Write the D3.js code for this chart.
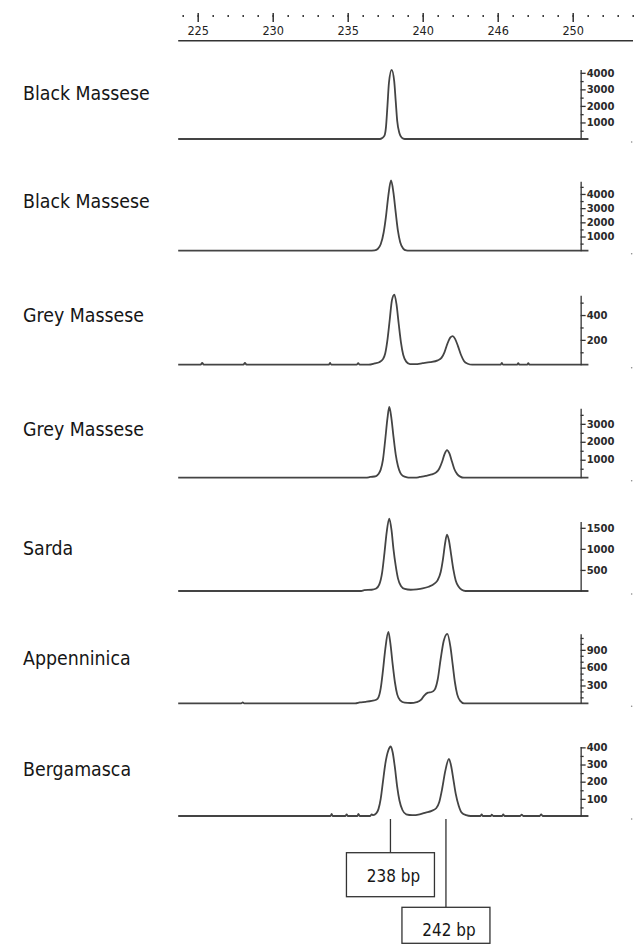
<!DOCTYPE html>
<html>
<head>
<meta charset="utf-8" />
<title>Electropherograms by breed</title>
<style>
  body { margin: 0; background: #fff; }
  svg { display: block; }
  .trace { fill: none; stroke: #444; stroke-width: 1.8px; stroke-linejoin: round; }
  .breed { font: 20px "DejaVu Sans", sans-serif; fill: #161616; }
  .yaxis text { font: bold 10px "DejaVu Sans", sans-serif; fill: #2a2a2a; }
  .yaxis path, .yaxis line { stroke: #333; stroke-width: 1.3px; }
  .xaxis text { font: 13px "DejaVu Sans", sans-serif; fill: #222; }
  .xaxis line { stroke: #333; stroke-width: 1.5px; }
  .marker { stroke: #333; stroke-width: 1.3px; fill: none; }
  .box { fill: #fff; stroke: #333; stroke-width: 1.3px; }
  .boxlabel { font: 17.5px "DejaVu Sans", sans-serif; fill: #161616; }
</style>
</head>
<body>
<svg width="638" height="948"></svg>
<script src="https://d3js.org/d3.v7.min.js"></script>
<script>
// ---- data ----
const breeds = ["Black Massese", "Black Massese", "Grey Massese", "Grey Massese",
                "Sarda", "Appenninica", "Bergamasca"];

const sizeTicks = [225, 230, 235, 240, 245, 250];
const sizeTickLabels = ["225", "230", "235", "240", "246", "250"];

// right-hand RFU axis of each panel
const axisMax = [4200, 4900, 560, 3870, 1650, 1170, 405];
const axisMajor = [
  [1000, 2000, 3000, 4000],
  [1000, 2000, 3000, 4000],
  [200, 400],
  [1000, 2000, 3000],
  [500, 1000, 1500],
  [300, 600, 900],
  [100, 200, 300, 400]
];
const axisMinorStep = [500, 500, 100, 500, 0, 100, 50];

// traces: [size (bp), intensity]
const traceBlack1 = [[223.7,0],[237.15,0],[237.3,60],[237.45,200],[237.55,700],[237.65,2000],
  [237.75,3400],[237.93,4180],[238.1,3500],[238.2,2300],[238.3,1100],[238.45,350],
  [238.6,80],[238.8,0],[251.05,0]];

const traceBlack2 = [[223.7,0],[236.4,0],[236.8,30],[237.0,120],[237.2,450],[237.4,1300],
  [237.55,2400],[237.7,3800],[237.89,4950],[238.05,4100],[238.2,2700],[238.35,1400],
  [238.5,600],[238.7,150],[238.9,20],[239.1,0],[251.05,0]];

const traceGrey1 = [[223.7,0],[225.2,0],[225.3,15],[225.4,0],[228.05,0],[228.15,15],[228.25,0],
  [233.75,0],[233.82,15],[233.9,0],[235.6,0],[235.7,12],[235.8,0],[236.4,0],[236.8,10],
  [237.1,20],[237.35,45],[237.5,90],[237.65,200],[237.8,360],[237.95,520],[238.11,565],
  [238.25,490],[238.4,330],[238.55,180],[238.7,80],[238.9,25],[239.15,5],[239.5,5],
  [240.0,12],[240.5,20],[241.0,35],[241.25,55],[241.45,100],[241.65,170],[241.85,220],
  [242.0,230],[242.15,210],[242.35,150],[242.55,80],[242.75,30],[243.0,8],[243.3,0],
  [245.2,0],[245.27,15],[245.35,0],[246.3,0],[246.37,12],[246.45,0],[246.97,0],
  [247.04,12],[247.12,0],[251.05,0]];

const traceGrey2 = [[223.7,0],[236.2,0],[236.5,40],[236.9,90],[237.05,200],[237.2,450],
  [237.35,1000],[237.5,2100],[237.65,3300],[237.77,3940],[237.9,3400],[238.05,2300],
  [238.2,1300],[238.35,650],[238.5,280],[238.7,90],[238.95,20],[239.1,0],[239.5,0],
  [239.8,40],[240.2,100],[240.6,180],[240.9,300],[241.1,500],[241.3,900],[241.45,1300],
  [241.62,1540],[241.78,1350],[241.95,900],[242.1,500],[242.3,200],[242.5,60],
  [242.75,0],[251.05,0]];

const traceSarda = [[223.7,0],[235.9,0],[236.1,20],[236.6,30],[236.9,60],[237.1,150],
  [237.3,450],[237.45,900],[237.6,1400],[237.77,1720],[237.92,1450],[238.05,1000],
  [238.2,600],[238.35,300],[238.55,120],[238.8,50],[239.2,30],[239.6,40],[240.0,60],
  [240.4,100],[240.8,180],[241.0,260],[241.2,450],[241.35,750],[241.5,1150],
  [241.62,1340],[241.75,1200],[241.9,850],[242.05,500],[242.2,250],[242.4,100],
  [242.6,30],[242.85,0],[251.05,0]];

const traceAppen = [[223.7,0],[227.9,0],[228.0,15],[228.1,0],[235.5,0],[235.8,15],[236.2,25],
  [236.6,40],[236.9,60],[237.05,100],[237.2,250],[237.35,550],[237.5,900],[237.71,1200],
  [237.85,1000],[238.0,650],[238.15,350],[238.3,150],[238.5,50],[238.8,10],[239.2,5],
  [239.6,20],[239.9,60],[240.1,130],[240.35,180],[240.6,190],[240.8,230],[241.0,400],
  [241.2,750],[241.4,1050],[241.64,1170],[241.85,950],[242.0,650],[242.15,350],
  [242.3,150],[242.5,40],[242.75,0],[251.05,0]];

const traceBerga = [[223.7,0],[233.85,0],[233.93,12],[234.0,0],[234.85,0],[234.93,10],[235.0,0],
  [235.65,0],[235.71,12],[235.8,0],[236.5,0],[236.6,10],[236.7,5],[236.9,15],[237.05,40],
  [237.2,100],[237.35,200],[237.5,300],[237.7,380],[237.87,405],[238.0,370],[238.15,280],
  [238.3,170],[238.45,90],[238.65,35],[238.9,10],[239.3,5],[239.8,10],[240.2,20],
  [240.6,30],[240.9,45],[241.1,80],[241.3,160],[241.5,260],[241.75,333],[241.9,290],
  [242.05,210],[242.2,130],[242.4,60],[242.6,20],[242.9,5],[243.2,0],[243.85,0],
  [243.93,10],[244.0,0],[244.55,0],[244.6,8],[244.7,0],[245.3,0],[245.37,10],[245.45,0],
  [246.5,0],[246.6,8],[246.7,0],[247.8,0],[247.9,10],[248.0,0],[251.05,0]];

const traces = [traceBlack1, traceBlack2, traceGrey1, traceGrey2, traceSarda, traceAppen, traceBerga];

const alleleLabels = ["238 bp", "242 bp"];
const allelePos = [237.85, 241.55];

// ---- layout ----
const svg = d3.select("svg");
const baselineY = [139, 250.7, 364.7, 477.7, 591, 703.3, 816];
const labelY = [100, 207.5, 322, 436, 555, 665, 776];
const axisPx = 69.5;       // height of each RFU axis
const sx = 0.87;           // narrow the DejaVu glyphs toward the original face

const x = d3.scaleLinear().domain([225, 250]).range([197.7, 572.7]);
const traceStart = 223.7, yAxisAt = 250.53;

// top size axis
const topG = svg.append("g").attr("class", "xaxis");
topG.append("g")
  .attr("transform", "translate(0,15)")
  .call(d3.axisBottom(x).tickValues(d3.range(224, 255)).tickSize(2).tickFormat(""))
  .call(g => g.select(".domain").remove());
topG.append("g")
  .attr("transform", "translate(0,13)")
  .call(d3.axisBottom(x).tickValues(sizeTicks).tickSize(9).tickPadding(4)
    .tickFormat((d, i) => sizeTickLabels[i]))
  .call(g => g.select(".domain").remove())
  .call(g => g.selectAll("text").attr("fill", "#222").attr("transform", `scale(${sx},1)`));
topG.append("line")
  .attr("x1", x(traceStart)).attr("x2", x(254.02))
  .attr("y1", 40.7).attr("y2", 40.7)
  .attr("stroke", "#333").attr("stroke-width", 1.6);

const line = d3.line().curve(d3.curveMonotoneX);

breeds.forEach((name, i) => {
  const y0 = baselineY[i];
  const y = d3.scaleLinear().domain([0, axisMax[i]]).range([y0, y0 - axisPx]);
  const g = svg.append("g");

  // breed label
  g.append("text")
    .attr("class", "breed")
    .attr("transform", `translate(23,${labelY[i]}) scale(${sx},1)`)
    .text(name);

  // trace
  g.append("path")
    .attr("class", "trace")
    .attr("d", line.x(d => x(d[0])).y(d => y(d[1]))(traces[i]));

  // right RFU axis
  const ax = g.append("g")
    .attr("class", "yaxis")
    .attr("transform", `translate(${x(yAxisAt)},0)`);
  if (axisMinorStep[i]) {
    const minor = d3.range(axisMinorStep[i], axisMax[i], axisMinorStep[i])
      .filter(v => !axisMajor[i].includes(v));
    ax.append("g")
      .call(d3.axisRight(y).tickValues(minor).tickSize(3).tickFormat(""))
      .call(s => s.select(".domain").remove());
  }
  ax.append("g")
    .call(d3.axisRight(y).tickValues(axisMajor[i]).tickSize(5).tickSizeOuter(0)
      .tickPadding(1).tickFormat(d3.format("d")))
    .call(s => s.selectAll("text").attr("fill", "#2a2a2a"));

  // little speck right of each panel
  g.append("circle")
    .attr("cx", x(253.93)).attr("cy", y0 + 3).attr("r", 0.8).attr("fill", "#888");
});

// allele call markers
const lastBase = baselineY[baselineY.length - 1];
const boxTop = [852.7, 907.3];
const boxH = [44, 36];
const boxW = 88;
alleleLabels.forEach((lab, i) => {
  const cx = x(allelePos[i]);
  svg.append("line").attr("class", "marker")
    .attr("x1", cx).attr("x2", cx)
    .attr("y1", lastBase + 3).attr("y2", boxTop[i]);
  svg.append("rect").attr("class", "box")
    .attr("x", cx - boxW / 2).attr("y", boxTop[i])
    .attr("width", boxW).attr("height", boxH[i]);
  svg.append("text").attr("class", "boxlabel")
    .attr("text-anchor", "middle")
    .attr("transform", `translate(${cx + 3},${boxTop[i] + 29}) scale(${sx},1)`)
    .text(lab);
});
</script>
</body>
</html>
